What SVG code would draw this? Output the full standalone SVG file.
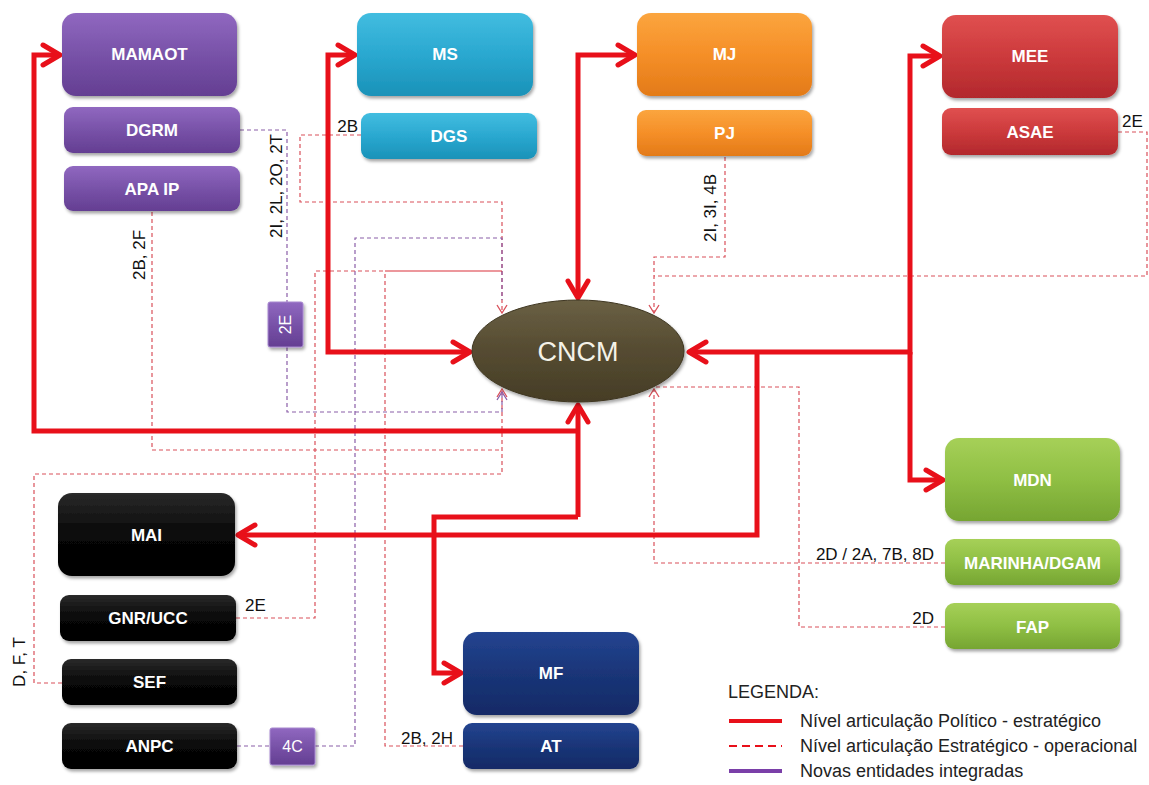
<svg xmlns="http://www.w3.org/2000/svg" width="1149" height="785" viewBox="0 0 1149 785">
<style>
.lbl{font-family:"Liberation Sans",Arial,sans-serif;font-weight:bold;font-size:17px;fill:#ffffff;text-anchor:middle;dominant-baseline:central}
.note{font-family:"Liberation Sans",Arial,sans-serif;font-size:17px;fill:#111111}
.leg{font-family:"Liberation Sans",Arial,sans-serif;font-size:18px;fill:#222222}
.thick{fill:none;stroke:#e8101a;stroke-width:5;stroke-linejoin:miter}
.dr{fill:none;stroke:#d9505a;stroke-width:1.2;stroke-dasharray:4 3}
.dp{fill:none;stroke:#8a5ea8;stroke-width:1.2;stroke-dasharray:4 3}
.thin{fill:none;stroke:#d9303a;stroke-width:1.2}
.box{filter:url(#sh)}
</style>
<defs>
<filter id="sh" x="-10%" y="-10%" width="125%" height="140%">
<feDropShadow dx="1.5" dy="2.5" stdDeviation="1.8" flood-color="#000" flood-opacity="0.35"/>
</filter>
<linearGradient id="gPur" x1="0" y1="0" x2="0" y2="1"><stop offset="0" stop-color="#9068c0"/><stop offset="0.5" stop-color="#7852a8"/><stop offset="1" stop-color="#643e92"/></linearGradient>
<linearGradient id="gCya" x1="0" y1="0" x2="0" y2="1"><stop offset="0" stop-color="#42bde0"/><stop offset="0.5" stop-color="#2aa8d0"/><stop offset="1" stop-color="#1a92b8"/></linearGradient>
<linearGradient id="gOra" x1="0" y1="0" x2="0" y2="1"><stop offset="0" stop-color="#fba53e"/><stop offset="0.5" stop-color="#f58f28"/><stop offset="1" stop-color="#e37a18"/></linearGradient>
<linearGradient id="gRed" x1="0" y1="0" x2="0" y2="1"><stop offset="0" stop-color="#e05050"/><stop offset="0.5" stop-color="#cc3a3c"/><stop offset="1" stop-color="#b2282c"/></linearGradient>
<linearGradient id="gGrn" x1="0" y1="0" x2="0" y2="1"><stop offset="0" stop-color="#a6d058"/><stop offset="0.5" stop-color="#8fbf44"/><stop offset="1" stop-color="#76a532"/></linearGradient>
<linearGradient id="gBlk" x1="0" y1="0" x2="0" y2="1"><stop offset="0" stop-color="#2a2a2a"/><stop offset="0.5" stop-color="#080808"/><stop offset="1" stop-color="#000000"/></linearGradient>
<linearGradient id="gNav" x1="0" y1="0" x2="0" y2="1"><stop offset="0" stop-color="#234490"/><stop offset="0.5" stop-color="#1a3578"/><stop offset="1" stop-color="#122a66"/></linearGradient>
<linearGradient id="gOl" x1="0" y1="0" x2="0" y2="1"><stop offset="0" stop-color="#6a6044"/><stop offset="0.5" stop-color="#554b31"/><stop offset="1" stop-color="#463d26"/></linearGradient>
<marker id="ah" markerUnits="userSpaceOnUse" viewBox="-22 -13 26 26" markerWidth="26" markerHeight="26" refX="0" refY="0" orient="auto-start-reverse">
<path d="M-17,-10 L0,0 L-17,10" fill="none" stroke="#e8101a" stroke-width="5" stroke-linecap="round" stroke-linejoin="round"/>
</marker>
<marker id="sr" markerUnits="userSpaceOnUse" viewBox="-10 -6 12 12" markerWidth="12" markerHeight="12" refX="0" refY="0" orient="auto">
<path d="M-8,-5 L0,0 L-8,5" fill="none" stroke="#d9505a" stroke-width="1.3"/>
</marker>
<marker id="sp" markerUnits="userSpaceOnUse" viewBox="-10 -6 12 12" markerWidth="12" markerHeight="12" refX="0" refY="0" orient="auto">
<path d="M-8,-5 L0,0 L-8,5" fill="none" stroke="#8a5ea8" stroke-width="1.3"/>
</marker>
</defs>
<rect width="1149" height="785" fill="#ffffff"/>

<g id="connectors">
<path class="dr" d="M361,135 L300,135 L300,202 L502,202 L502,313" marker-end="url(#sr)"/>
<path class="dp" d="M315,746 L355,746 L355,238 L502,238 L502,300"/>
<path class="dp" d="M237,746 L270,746"/>
<path class="dr" d="M236,618 L315,618 L315,271 L385,271"/>
<path class="dr" d="M463,746 L385,746 L385,271"/>
<path class="thin" d="M385,271 L502,271"/>
<path class="dr" d="M62,683 L34,683 L34,474 L502,474 L502,389" marker-end="url(#sr)"/>
<path class="dr" d="M152,212 L152,450 L502,450"/>
<path class="dp" d="M240,130 L287,130 L287,302"/>
<path class="dp" d="M287,347 L287,412 L502,412 L502,392" marker-end="url(#sp)"/>
<path class="dr" d="M725,157 L725,257 L654,257 L654,313" marker-end="url(#sr)"/>
<path class="dr" d="M1118,132 L1147,132 L1147,276 L654,276"/>
<path class="dr" d="M945,563 L654,563 L654,389" marker-end="url(#sr)"/>
<path class="dr" d="M945,627 L799,627 L799,387 L654,387"/>
<path class="thick" d="M60,55 L34,55 L34,431 L578,431" marker-start="url(#ah)"/>
<path class="thick" d="M578,517 L578,405" marker-end="url(#ah)"/>
<path class="thick" d="M578,517 L434,517 L434,673 L461,673" marker-end="url(#ah)"/>
<path class="thick" d="M355,55 L328,55 L328,352 L470,352" marker-start="url(#ah)" marker-end="url(#ah)"/>
<path class="thick" d="M578,298 L578,55 L635,55" marker-start="url(#ah)" marker-end="url(#ah)"/>
<path class="thick" d="M940,56 L910,56 L910,352 L689,352" marker-start="url(#ah)" marker-end="url(#ah)"/>
<path class="thick" d="M910,352 L910,480 L943,480" marker-end="url(#ah)"/>
<path class="thick" d="M757,352 L757,535 L238,535" marker-end="url(#ah)"/>
<text class="note" transform="translate(282,186) rotate(-90)" text-anchor="middle">2I, 2L, 2O, 2T</text>
<text class="note" transform="translate(145,255) rotate(-90)" text-anchor="middle">2B, 2F</text>
<text class="note" x="358" y="132" text-anchor="end">2B</text>
<text class="note" transform="translate(716,208) rotate(-90)" text-anchor="middle">2I, 3I, 4B</text>
<text class="note" x="1122" y="127">2E</text>
<text class="note" x="245" y="611">2E</text>
<text class="note" transform="translate(25,662) rotate(-90)" text-anchor="middle">D, F, T</text>
<text class="note" x="401" y="744">2B, 2H</text>
<text class="note" x="934" y="560" text-anchor="end">2D / 2A, 7B, 8D</text>
<text class="note" x="934" y="624" text-anchor="end">2D</text>
</g>

<g id="MAMAOT"><rect class="box" x="62" y="13" width="175" height="83" rx="14" fill="url(#gPur)"/><text class="lbl" x="149.5" y="54">MAMAOT</text></g>
<g id="DGRM"><rect class="box" x="64" y="107" width="176" height="46" rx="9" fill="url(#gPur)"/><text class="lbl" x="152" y="130">DGRM</text></g>
<g id="APAIP"><rect class="box" x="64" y="166" width="176" height="45" rx="9" fill="url(#gPur)"/><text class="lbl" x="152" y="189">APA IP</text></g>
<g id="MS"><rect class="box" x="357" y="13" width="176" height="83" rx="14" fill="url(#gCya)"/><text class="lbl" x="445" y="54">MS</text></g>
<g id="DGS"><rect class="box" x="361" y="113" width="176" height="46" rx="9" fill="url(#gCya)"/><text class="lbl" x="449" y="136">DGS</text></g>
<g id="MJ"><rect class="box" x="637" y="13" width="175" height="83" rx="14" fill="url(#gOra)"/><text class="lbl" x="724.5" y="54">MJ</text></g>
<g id="PJ"><rect class="box" x="637" y="110" width="175" height="46" rx="9" fill="url(#gOra)"/><text class="lbl" x="724.5" y="133">PJ</text></g>
<g id="MEE"><rect class="box" x="942" y="15" width="176" height="83" rx="14" fill="url(#gRed)"/><text class="lbl" x="1030" y="56">MEE</text></g>
<g id="ASAE"><rect class="box" x="942" y="108" width="176" height="47" rx="9" fill="url(#gRed)"/><text class="lbl" x="1030" y="132">ASAE</text></g>
<g id="MDN"><rect class="box" x="945" y="438" width="175" height="83" rx="14" fill="url(#gGrn)"/><text class="lbl" x="1032.5" y="480">MDN</text></g>
<g id="MARINHA"><rect class="box" x="945" y="539" width="175" height="46" rx="9" fill="url(#gGrn)"/><text class="lbl" x="1032.5" y="563">MARINHA/DGAM</text></g>
<g id="FAP"><rect class="box" x="945" y="603" width="175" height="46" rx="9" fill="url(#gGrn)"/><text class="lbl" x="1032.5" y="627">FAP</text></g>
<g id="MAI"><rect class="box" x="58" y="493" width="177" height="83" rx="14" fill="url(#gBlk)"/><text class="lbl" x="146.5" y="535">MAI</text></g>
<g id="GNRUCC"><rect class="box" x="60" y="595" width="176" height="46" rx="9" fill="url(#gBlk)"/><text class="lbl" x="148" y="618">GNR/UCC</text></g>
<g id="SEF"><rect class="box" x="62" y="659" width="175" height="46" rx="9" fill="url(#gBlk)"/><text class="lbl" x="149.5" y="682">SEF</text></g>
<g id="ANPC"><rect class="box" x="62" y="723" width="175" height="46" rx="9" fill="url(#gBlk)"/><text class="lbl" x="149.5" y="746">ANPC</text></g>
<g id="MF"><rect class="box" x="463" y="632" width="176" height="83" rx="14" fill="url(#gNav)"/><text class="lbl" x="551" y="673">MF</text></g>
<g id="AT"><rect class="box" x="463" y="723" width="176" height="46" rx="9" fill="url(#gNav)"/><text class="lbl" x="551" y="746">AT</text></g>
<g id="E2"><rect class="box" x="268" y="302" width="35" height="45" rx="2" fill="url(#gPur)" stroke="#a888d0" stroke-width="1"/><text class="lbl" style="font-weight:normal;font-size:16px" transform="translate(285.5,324.5) rotate(-90)">2E</text></g>
<g id="C4"><rect class="box" x="270" y="728" width="45" height="37" rx="2" fill="url(#gPur)" stroke="#a888d0" stroke-width="1"/><text class="lbl" style="font-weight:normal;font-size:16px" x="292.5" y="746.5">4C</text></g>
<g id="CNCM"><ellipse class="box" cx="578" cy="351" rx="106" ry="51" fill="url(#gOl)" stroke="#3e3620" stroke-width="1"/><text x="578" y="352" font-family="Liberation Sans, Arial, sans-serif" font-size="27" fill="#f4f2e8" text-anchor="middle" dominant-baseline="central">CNCM</text></g>

<g id="legend">
<text class="leg" x="728" y="698">LEGENDA:</text>
<line x1="729" y1="721" x2="782" y2="721" stroke="#e8101a" stroke-width="4"/>
<line x1="729" y1="746" x2="782" y2="746" stroke="#e8101a" stroke-width="2" stroke-dasharray="8 5"/>
<line x1="729" y1="771" x2="782" y2="771" stroke="#7a3fa8" stroke-width="4"/>
<text class="leg" x="800" y="727">Nível articulação Político - estratégico</text>
<text class="leg" x="800" y="752">Nível articulação Estratégico - operacional</text>
<text class="leg" x="800" y="777">Novas entidades integradas</text>
</g>
</svg>
